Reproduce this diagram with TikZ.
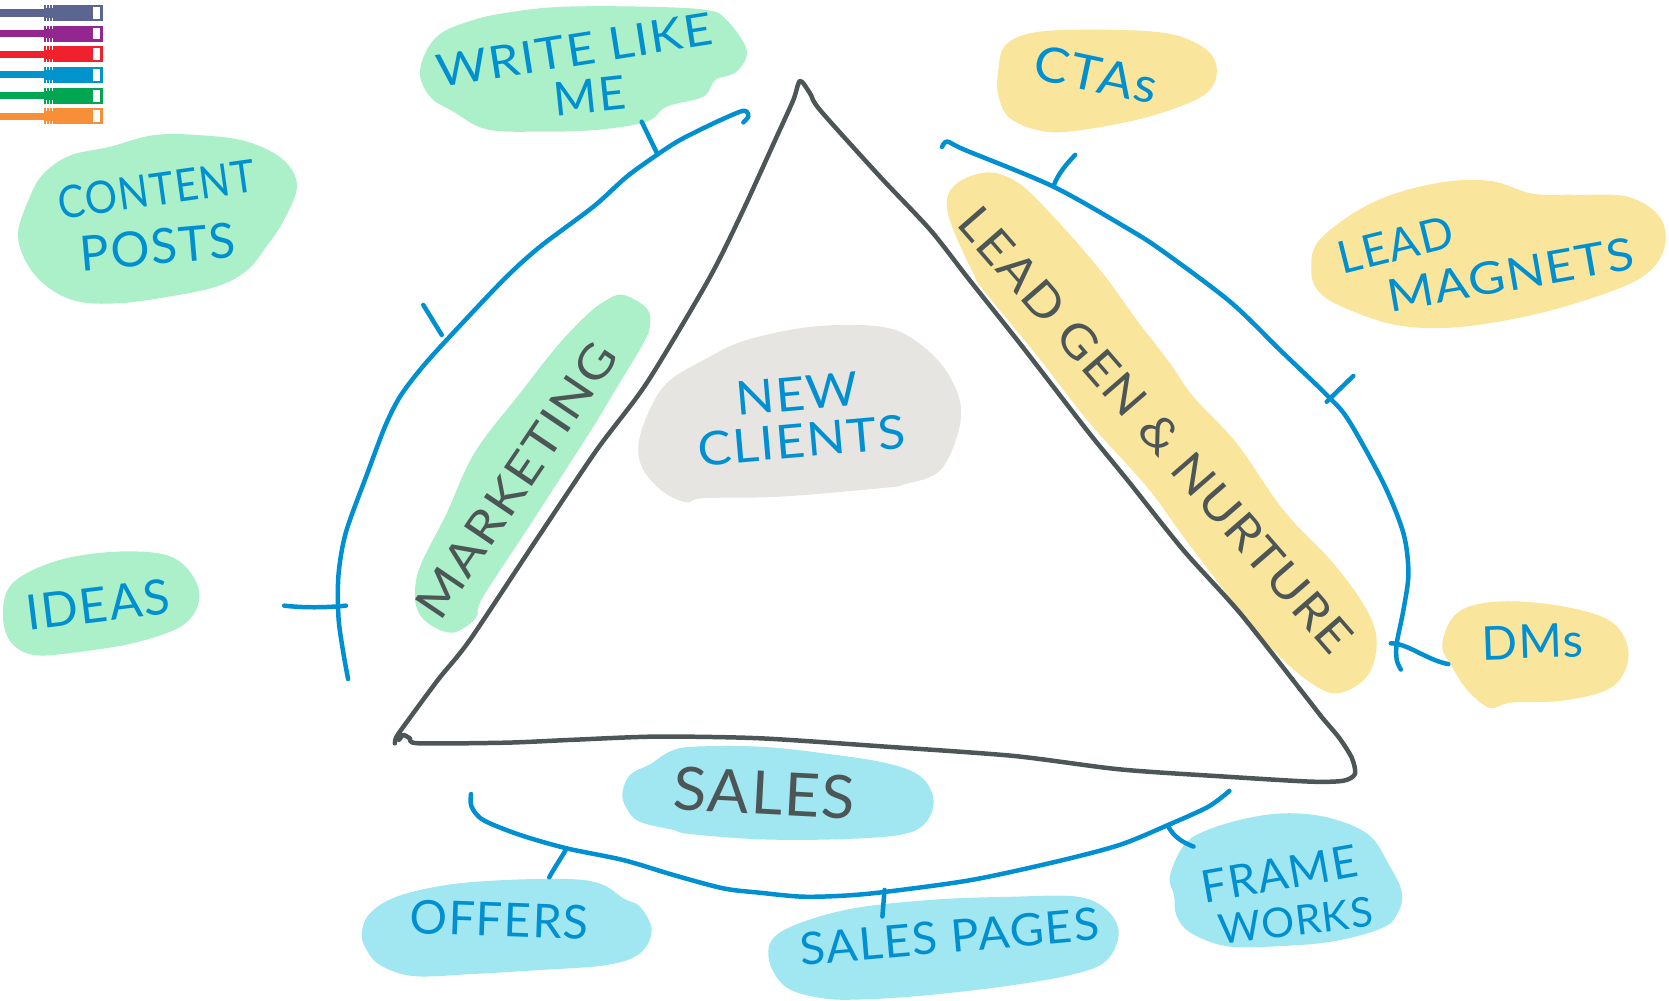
\documentclass[tikz,border=0pt]{standalone}
\usepackage{fontspec}
\setmainfont{Lato}
\newfontfamily\hand{Lato}[LetterSpace=3]
\definecolor{blobgreen}{HTML}{ABF0C8}
\definecolor{blobyellow}{HTML}{F9E59B}
\definecolor{blobcyan}{HTML}{A0E7F1}
\definecolor{blobgray}{HTML}{E6E5E1}
\definecolor{penblue}{HTML}{0090D2}
\definecolor{pendark}{HTML}{4D5656}
\tikzset{
  blob/.style={smooth cycle,tension=0.6},
  pen/.style={draw=penblue,line width=2.4pt,line cap=round,line join=round},
  tri/.style={draw=pendark,line width=2.4pt,line cap=round,line join=round},
  lab/.style={inner sep=0pt,align=center,text=penblue,font=\hand\fontsize{#1}{#1}\selectfont},
  lab/.default=24,
}
\begin{document}
\begin{tikzpicture}[x=0.02cm,y=-0.02cm]
\useasboundingbox (0,0) rectangle (1568,940.4);
% blobs
\fill[blobgreen] plot[blob] coordinates {(394.6,65.8)(410.2,34.5)(444.7,18.8)(482.3,11)(529.3,6.3)(607.5,6.3)(664,9.4)(682.7,18.8)(701.5,47)(692,67.3)(671.8,75.2)(660.8,90.8)(626.3,100.2)(607.5,114.3)(560.6,122)(507.3,123.7)(457.2,121.5)(426,104.9)(404,90.8)};
\fill[blobgreen] plot[blob] coordinates {(17,219)(28,185)(41,163)(66,146)(103,138)(144,127)(188,127)(232,133)(266,150)(279,175)(266,208)(250,232)(232,254)(204,269)(157,279)(110,285)(72,283)(44,269)(25,247)};
\fill[blobyellow] plot[blob] coordinates {(938,65)(945,42)(975,30)(1040,28)(1100,32)(1135,48)(1143,70)(1130,90)(1085,108)(1030,120)(985,124)(950,112)(938,90)};
\fill[blobyellow] plot[blob] coordinates {(1232,255)(1240,225)(1290,190)(1350,172)(1400,170)(1440,182)(1480,183)(1530,185)(1560,205)(1563,235)(1540,262)(1480,285)(1420,300)(1360,308)(1310,305)(1265,290)(1240,275)};
\fill[blobyellow] plot[blob] coordinates {(889.4,191)(895.6,175.3)(914.4,164.4)(936.3,162.8)(961.4,175.3)(992.7,206.7)(1008.4,223.9)(1039.7,261.5)(1067.9,300.6)(1099.2,341.3)(1121.1,372.7)(1161.9,416.5)(1205.7,479.2)(1252.7,529.3)(1284,573)(1293.4,604.4)(1284,635.7)(1255.8,651.4)(1227.7,638.9)(1193.2,607.6)(1161.9,570)(1111.8,504.2)(1077.3,457.2)(1024,397.7)(975,335)(923.8,272.4)(914.4,256.8)(895.6,216)};
\fill[blobgreen] plot[blob] coordinates {(585.6,277)(607.5,289.6)(610.7,305.3)(604.4,322.5)(576.2,369.5)(557.4,400.8)(501,488.5)(454,560.5)(447.8,579.3)(435.3,590.3)(422.8,594.4)(407,588.7)(394.6,577.7)(389.9,560.5)(394.6,532.3)(419.6,482.2)(446,425)(488.5,369.5)(523,325.6)(551.2,295.9)(570,281.8)};
\fill[blobgray] plot[blob] coordinates {(599.7,419.6)(607.5,391.4)(626.3,360)(664,336.6)(701.5,319.4)(764,306.8)(826.8,306.8)(860,320)(890,350)(903,390)(885,440)(850,455)(826.8,458.7)(733,466.6)(660.8,468)(645,472)(623,462)(604.4,441.5)};
\fill[blobgreen] plot[blob] coordinates {(3,570)(15,545)(60,525)(120,518)(165,525)(187,555)(175,585)(130,603)(70,613)(30,615)(8,600)};
\fill[blobyellow] plot[blob] coordinates {(1355,605)(1370,575)(1410,565)(1470,570)(1515,585)(1530,615)(1515,645)(1470,658)(1420,660)(1400,665)(1380,650)(1365,628)};
\fill[blobcyan] plot[blob] coordinates {(584.7,745.3)(591.9,728)(610.7,718)(629.5,706)(651.4,701.5)(714,701.5)(773.6,707.7)(833,717)(865,729.6)(877,751.6)(869,773.5)(845,784.4)(785.5,788.5)(714,788.5)(648,783.5)(632.6,779.7)(601,772)(588.7,759.4)};
\fill[blobcyan] plot[blob] coordinates {(339.8,876.8)(347.6,858)(372.6,842.4)(419.6,831.4)(476,826.7)(538.6,826)(566.8,831.4)(585.6,844)(601.2,851.8)(612.2,873.7)(601.2,895.6)(570,906.6)(507.3,911.3)(444.7,915)(388.3,917)(357,906.6)(344.5,892.5)};
\fill[blobcyan] plot[blob] coordinates {(722,898.8)(733.9,875.3)(793.5,855)(873,845.5)(952.5,842.4)(1012,842.4)(1040,855)(1051,876.8)(1040,901.9)(1012,914.4)(952.5,925.4)(873,934.8)(813.4,938.8)(773.6,937.9)(737.8,926.9)};
\fill[blobcyan] plot[blob] coordinates {(1099,823.6)(1111.5,795)(1131.3,781)(1171,768.8)(1210.8,764)(1250.6,768.8)(1286,784.4)(1305,812.6)(1317,838)(1313,858)(1298,872)(1250.6,884.7)(1191,889.4)(1151,888.7)(1119.4,876.8)(1105.5,861)(1103,840.8)};
% triangle
\draw[tri] plot[smooth,tension=0.45] coordinates {(371,698.3)(372.6,692)(383.6,676.4)(412,638)(441.6,601)(504,507)(560.6,422.7)(607.5,360)(665.5,263)(696.8,200.4)(729.7,128.4)(745.3,94)(751.6,76)(761,87.7)(770.4,103.4)(826.8,166)(874,216)(910,262)(960,325)(1021,404)(1060,452)(1111.6,516.7)(1165,576)(1228,656)(1242,674)(1258,693)(1270,712)(1273,727)(1262,733.5)(1230.7,734.3)(1151,729.6)(1052,722.8)(952.5,710.2)(833,701.5)(714,693.6)(617,692)(538.6,695)(476,697.7)(393,698.3)(385,693.6)(379,690.5)(375,695)};
% arcs
\draw[pen] plot[smooth,tension=0.5] coordinates {(698.4,115)(703,109.6)(701.5,104.9)(695.3,104.9)(670.2,115.9)(638.9,131.5)(617,145.6)(588.8,166)(557.4,194.2)(507.3,231.8)(472.9,263)(419.6,319.4)(395,347)(375.8,372.6)(362,400)(345,445)(325,500)(318,540)(318,580)(322,610)(327,638)};
\draw[pen] plot[smooth,tension=0.5] coordinates {(885,138)(890,133)(906.6,140.9)(989.6,175.3)(1061.6,216)(1093,236.4)(1155.6,283.4)(1202.5,328.8)(1246.4,371)(1266.8,394.6)(1299.7,454)(1318.5,501)(1323.2,538.7)(1318.5,573)(1312.2,604.4)(1312.2,620)(1316,629)};
\draw[pen] plot[smooth,tension=0.5] coordinates {(442.5,746)(443,757.8)(454,770.4)(488.5,784.4)(532.4,797)(585.6,808)(632.6,822)(679.6,834.6)(714,838.7)(753.7,842.4)(793.5,841.4)(833.2,837.7)(912.7,826.7)(992.2,809.5)(1051.8,793.8)(1097.5,775)(1135.3,757.8)(1155,743)};
% ticks
\coordinate (wa) at (602.8,114.3); \coordinate (wb) at (617,143.4);
\coordinate (ca) at (397.7,286.5); \coordinate (cb) at (415,314.7);
\coordinate (ia) at (267,569); \coordinate (ib) at (325,569);
\coordinate (ta) at (989.6,175.3); \coordinate (tb) at (1010,145.6);
\coordinate (ma) at (1246.4,377.4); \coordinate (mb) at (1271.4,353.2);
\coordinate (da) at (1306.6,604.4); \coordinate (db) at (1360.7,623.9);
\coordinate (oa) at (532.4,797); \coordinate (ob) at (516,824.2);
\coordinate (pa) at (831,836); \coordinate (pb) at (829,861);
\coordinate (fa) at (1097.5,776.6); \coordinate (fb) at (1121.4,795.4);
\draw[pen] (wa)--(wb);
\draw[pen] (ca)--(cb);
\draw[pen] (ia) .. controls (285,571) and (305,571) .. (ib);
\draw[pen] (ta) .. controls (994,163) and (1002,154) .. (tb);
\draw[pen] (ma)--(mb);
\draw[pen] (da) .. controls (1322,604) and (1340,620) .. (db);
\draw[pen] (oa) .. controls (526,808) and (521,815) .. (ob);
\draw[pen] (pa)--(pb);
\draw[pen] (fa) .. controls (1103,786) and (1110,791) .. (fb);
% labels
\node[lab=24,rotate=8,xscale=.9] (content) at (147,178) {CONTENT};
\node[lab=26,rotate=5] (posts) at (148,232) {POSTS};
\node[lab=24,rotate=9,xscale=1.1] (write) at (540,47) {WRITE LIKE};
\node[lab=25,rotate=6] (me) at (554,90) {ME};
\node[lab=26,rotate=-12,xscale=1.07] (ctas) at (1030,70) {CTAs};
\node[lab=24,rotate=14] (lead) at (1311,230) {LEAD};
\node[lab=24,rotate=10,xscale=1.12] (magnets) at (1419,258) {MAGNETS};
\node[lab=25,rotate=-49,xscale=1.1,text=pendark] (gen) at (1086,404) {LEAD GEN \& NURTURE};
\node[lab=25,rotate=56,xscale=1.13,text=pendark] (mkt) at (485,451) {MARKETING};
\node[lab=25,rotate=5,xscale=1.08] (new) at (751,392) {NEW\\CLIENTS};
\node[lab=26,rotate=7] (ideas) at (92,568) {IDEAS};
\node[lab=25,rotate=2] (dms) at (1440,603) {DMs};
\node[lab=32,rotate=-3,xscale=1.03,text=pendark] (sales) at (718,745) {SALES};
\node[lab=25,rotate=-2] (offers) at (469,864) {OFFERS};
\node[lab=24,rotate=5,xscale=1.04] (pages) at (892,880) {SALES PAGES};
\node[lab=24,rotate=10] (frame) at (1202,821) {FRAME};
\node[lab=22,rotate=7] (works) at (1217,865) {WORKS};
% bars
\foreach \c/\yy in {5B6590/12.2,93278F/31.6,F1202D/51,0093CC/70.4,00A651/89.9,F78F38/109}{
  \definecolor{barc}{HTML}{\c}
  \fill[barc] (0,\yy-3.3) rectangle (42,\yy+3.3);
  \fill[barc] (41,\yy-7.6) rectangle (97,\yy+7.6);
  \fill[white] (87.5,\yy-5.5) rectangle (93.5,\yy+5.5);
  \foreach \xx in {43,46,49}{
    \fill[white] (\xx,\yy-7.6) rectangle (\xx+.8,\yy-4.5);
    \fill[white] (\xx,\yy+4.5) rectangle (\xx+.8,\yy+7.6);
  }
}
\end{tikzpicture}
\end{document}
